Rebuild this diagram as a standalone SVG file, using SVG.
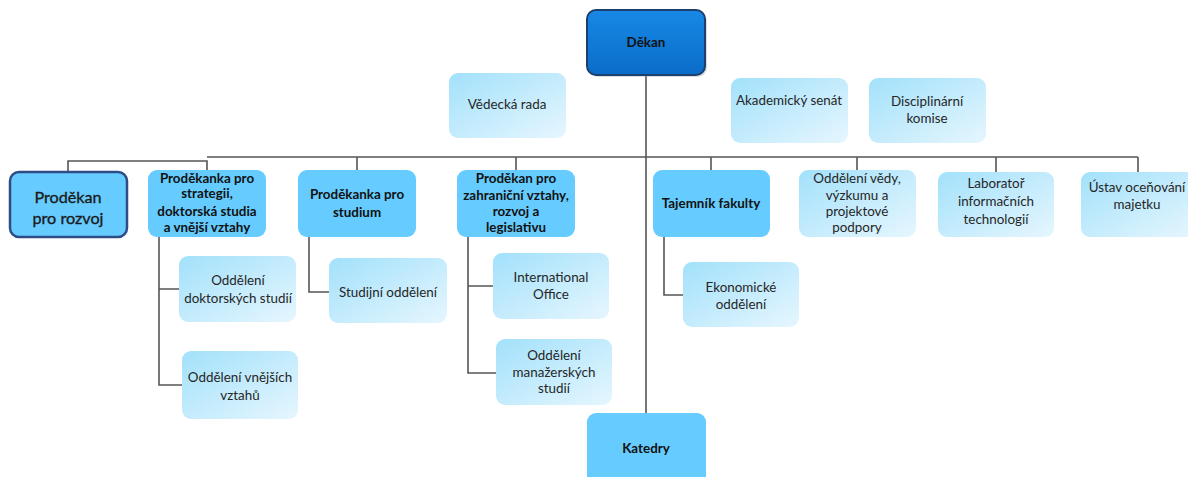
<svg xmlns="http://www.w3.org/2000/svg" width="1188" height="477" viewBox="0 0 1188 477">
<style>
.t{font-family:Lato,"Open Sans","Liberation Sans",sans-serif;font-size:13.4px;fill:#262626;text-anchor:middle}
.b{font-weight:bold;fill:#111}
.mid{fill:#66ccff}
.light{fill:url(#lg)}
.ln{stroke:#555;stroke-width:1.6;fill:none}
.semi{font-size:16.2px;fill:#1a1a1a;stroke:#1a1a1a;stroke-width:0.35}
</style>
<defs>
<linearGradient id="lg" x1="0" y1="0" x2="1" y2="1">
<stop offset="0" stop-color="#a2e1fb"/>
<stop offset="1" stop-color="#e6f6fe"/>
</linearGradient>
<linearGradient id="dg" x1="0" y1="0" x2="0" y2="1">
<stop offset="0" stop-color="#1888e6"/>
<stop offset="1" stop-color="#0a6cc8"/>
</linearGradient>
</defs>
<rect width="1188" height="477" fill="#fff"/>
<g id="connectors">
<path class="ln" d="M646 75 V413"/>
<path class="ln" d="M207 157 H1138"/>
<path class="ln" d="M68 172 V161 H207 V170"/>
<path class="ln" d="M357 157 V170 M516 157 V170 M711 157 V170 M857 157 V170 M996 157 V172 M1138 157 V172"/>
<path class="ln" d="M159 237 V385 H182 M159 289 H179"/>
<path class="ln" d="M309 237 V292 H329"/>
<path class="ln" d="M468 237 V373 H496 M468 286 H493"/>
<path class="ln" d="M664 237 V295 H683"/>
</g>
<g id="dekan">
<rect x="589" y="12" width="118" height="65" rx="9" fill="#9aa" opacity="0.35"/>
<rect x="587" y="10" width="118" height="65" rx="9" fill="url(#dg)" stroke="#1d3f6e" stroke-width="2"/>
<text class="t b" x="646" y="47" font-size="14">Děkan</text>
</g>
<g id="vedecka-rada">
<rect class="light" x="449" y="73" width="117" height="65" rx="9"/>
<text class="t" x="507" y="109">Vědecká rada</text>
</g>
<g id="akademicky-senat">
<rect class="light" x="731" y="78" width="117" height="65" rx="9"/>
<text class="t" x="789" y="105">Akademický senát</text>
</g>
<g id="disciplinarni-komise">
<rect class="light" x="869" y="78" width="117" height="65" rx="9"/>
<text class="t" x="927" y="106">Disciplinární</text>
<text class="t" x="927" y="123">komise</text>
</g>
<g id="prodekan-rozvoj">
<rect class="mid" x="10" y="172" width="117" height="65" rx="9" stroke="#2e4d86" stroke-width="2.5"/>
<text class="t semi" x="68" y="203">Proděkan</text>
<text class="t semi" x="68" y="224">pro rozvoj</text>
</g>
<g id="prodekanka-strategie">
<rect class="mid" x="148" y="170" width="118" height="67" rx="9"/>
<text class="t b" x="207" y="183">Proděkanka pro</text>
<text class="t b" x="207" y="198">strategii,</text>
<text class="t b" x="207" y="216">doktorská studia</text>
<text class="t b" x="207" y="232">a vnější vztahy</text>
</g>
<g id="prodekanka-studium">
<rect class="mid" x="298" y="170" width="118" height="67" rx="9"/>
<text class="t b" x="357" y="199">Proděkanka pro</text>
<text class="t b" x="357" y="217">studium</text>
</g>
<g id="prodekan-zahranici">
<rect class="mid" x="457" y="170" width="118" height="67" rx="9"/>
<text class="t b" x="516" y="183">Proděkan pro</text>
<text class="t b" x="516" y="200">zahraniční vztahy,</text>
<text class="t b" x="516" y="216">rozvoj a</text>
<text class="t b" x="516" y="232">legislativu</text>
</g>
<g id="tajemnik">
<rect class="mid" x="653" y="170" width="117" height="67" rx="9"/>
<text class="t b" x="711" y="208">Tajemník fakulty</text>
</g>
<g id="oddeleni-vedy">
<rect class="light" x="799" y="170" width="117" height="67" rx="9"/>
<text class="t" x="857" y="183">Oddělení vědy,</text>
<text class="t" x="857" y="200">výzkumu a</text>
<text class="t" x="857" y="216">projektové</text>
<text class="t" x="857" y="232">podpory</text>
</g>
<g id="laborator">
<rect class="light" x="938" y="172" width="116" height="65" rx="9"/>
<text class="t" x="996" y="188">Laboratoř</text>
<text class="t" x="996" y="206">informačních</text>
<text class="t" x="996" y="224">technologií</text>
</g>
<g id="ustav">
<rect class="light" x="1081" y="172" width="116" height="65" rx="9"/>
<text class="t" x="1137" y="192">Ústav oceňování</text>
<text class="t" x="1137" y="209">majetku</text>
</g>
<g id="oddeleni-doktorskych">
<rect class="light" x="179" y="256" width="117" height="66" rx="9"/>
<text class="t" x="238" y="285">Oddělení</text>
<text class="t" x="238" y="303">doktorských studií</text>
</g>
<g id="oddeleni-vnejsich">
<rect class="light" x="182" y="351" width="116" height="68" rx="9"/>
<text class="t" x="240" y="382">Oddělení vnějších</text>
<text class="t" x="240" y="400">vztahů</text>
</g>
<g id="studijni-oddeleni">
<rect class="light" x="329" y="258" width="118" height="65" rx="9"/>
<text class="t" x="388" y="297">Studijní oddělení</text>
</g>
<g id="international-office">
<rect class="light" x="493" y="253" width="116" height="66" rx="9"/>
<text class="t" x="551" y="282">International</text>
<text class="t" x="551" y="299">Office</text>
</g>
<g id="oddeleni-manazerskych">
<rect class="light" x="496" y="339" width="116" height="66" rx="9"/>
<text class="t" x="554" y="360">Oddělení</text>
<text class="t" x="554" y="377">manažerských</text>
<text class="t" x="554" y="393">studií</text>
</g>
<g id="ekonomicke-oddeleni">
<rect class="light" x="683" y="262" width="116" height="65" rx="9"/>
<text class="t" x="741" y="292">Ekonomické</text>
<text class="t" x="741" y="309">oddělení</text>
</g>
<g id="katedry">
<rect class="mid" x="587" y="413" width="119" height="72" rx="9"/>
<text class="t b" x="646" y="453">Katedry</text>
</g>
</svg>
